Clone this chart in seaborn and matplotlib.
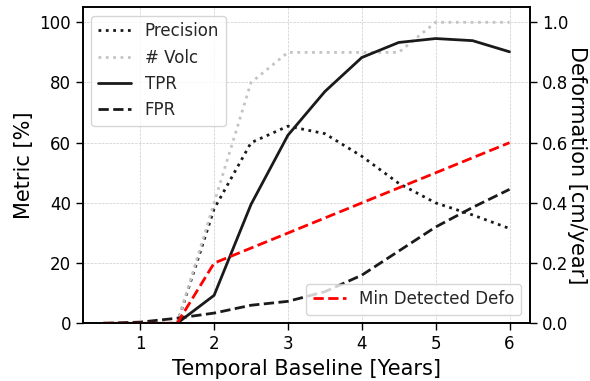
import matplotlib
matplotlib.use("Agg")
import matplotlib.pyplot as plt
import seaborn as sns
import numpy as np

baseline = [0.5, 1.0, 1.5, 2.0, 2.5, 3.0, 3.5, 4.0, 4.5, 5.0, 5.5, 6.0]
precision = [0, 0, 0, 38, 60, 65.5, 63, 55.5, 46.5, 40, 36, 31.5]
volc = [0, 0, 0, 40, 80, 90, 90, 90, 90, 100, 100, 100]
tpr = [0, 0, 0, 9.3, 39.5, 62.5, 77, 88.3, 93.3, 94.6, 93.9, 90.2]
fpr = [0, 0.4, 1.7, 3.4, 6, 7.3, 10.5, 16, 24, 32, 38.5, 44.5]
min_defo = [0, 0, 0, 0.2, 0.25, 0.3, 0.35, 0.4, 0.45, 0.5, 0.55, 0.6]

sns.set_style("ticks")
plt.rcParams['font.family'] = ['DejaVu Sans']

fig = plt.figure(figsize=(5.9, 3.81), dpi=100)
ax = fig.add_axes([0.1407, 0.1514, 0.898 - 0.1407, 0.981 - 0.1514])

sns.lineplot(x=baseline, y=precision, ax=ax, color='#1a1a1a', linestyle=':', linewidth=2, label='Precision')
sns.lineplot(x=baseline, y=volc, ax=ax, color='#c4c4c4', linestyle=':', linewidth=2, label='# Volc')
sns.lineplot(x=baseline, y=tpr, ax=ax, color='#1a1a1a', linestyle='-', linewidth=2, label='TPR')
sns.lineplot(x=baseline, y=fpr, ax=ax, color='#1a1a1a', linestyle='--', linewidth=2, label='FPR')

ax.set_xlim(0.225, 6.275)
ax.set_ylim(0, 105)
ax.set_yticks([0, 20, 40, 60, 80, 100])
ax.set_xticks([1, 2, 3, 4, 5, 6])
ax.grid(True, linestyle='--', linewidth=0.5, color='#cccccc')
ax.set_xlabel('Temporal Baseline [Years]', fontsize=15, color='black', labelpad=4)
ax.set_ylabel('Metric [%]', fontsize=15, color='black')
ax.tick_params(labelsize=12, colors='black', direction='out', length=5, width=1)
for s in ax.spines.values():
    s.set_color('black')
    s.set_linewidth(1.2)
leg1 = ax.legend(loc='upper left', fontsize=12)

ax2 = ax.twinx()
sns.lineplot(x=baseline, y=min_defo, ax=ax2, color='red', linestyle='--', linewidth=2, label='Min Detected Defo')
ax2.set_ylim(0, 1.05)
ax2.set_yticks([0, 0.2, 0.4, 0.6, 0.8, 1.0])
ax2.set_ylabel('Deformation [cm/year]', fontsize=15, rotation=270, labelpad=14, color='black')
ax2.tick_params(labelsize=12, colors='black', direction='out', length=5, width=1)
for s in ax2.spines.values():
    s.set_color('black')
    s.set_linewidth(1.2)
ax2.legend(loc='lower right', fontsize=12)

fig.savefig('out.png', dpi=100)
